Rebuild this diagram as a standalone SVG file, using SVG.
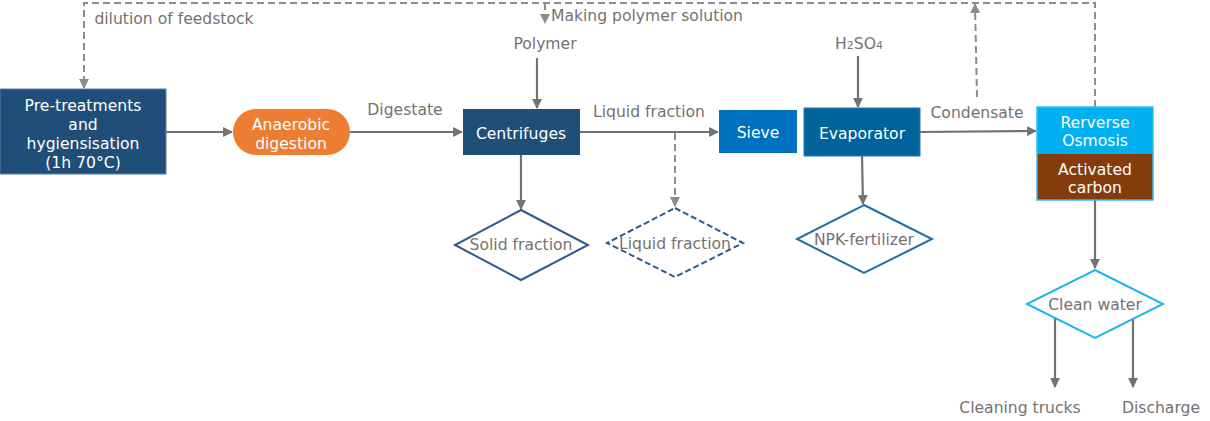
<svg xmlns="http://www.w3.org/2000/svg" width="1210" height="421" viewBox="0 0 1210 421">
<style>
text{font-family:"DejaVu Sans","Liberation Sans",sans-serif;font-size:15.6px;text-anchor:middle}
.w{fill:#ffffff}
.g{fill:#767171}
.c{stroke:#767171;stroke-width:2.2;fill:none}
.d{stroke:#8c8c8c;stroke-width:2;fill:none;stroke-dasharray:7 4}
</style>
<defs>
<marker id="a" viewBox="0 0 10 10" refX="9" refY="5" markerWidth="4.5" markerHeight="4.5" orient="auto" markerUnits="strokeWidth">
<path d="M0,0 L10,5 L0,10 z" fill="#767171"/>
</marker>
<marker id="ad" viewBox="0 0 10 10" refX="9" refY="5" markerWidth="5" markerHeight="5" orient="auto" markerUnits="strokeWidth">
<path d="M0,0 L10,5 L0,10 z" fill="#8c8c8c"/>
</marker>
</defs>
<g id="connectors">
<path class="d" d="M1095,107 V3 H84 V88" marker-end="url(#ad)"/>
<path class="d" d="M977,97 L975,4" marker-end="url(#ad)"/>
<path class="d" d="M545,3 V23" marker-end="url(#ad)"/>
<path class="c" d="M166,132 H232" marker-end="url(#a)"/>
<path class="c" d="M350,132 H462" marker-end="url(#a)"/>
<path class="c" d="M537,58 V108" marker-end="url(#a)"/>
<path class="c" d="M580,132 H718" marker-end="url(#a)"/>
<path class="d" d="M675,133 V206" marker-end="url(#ad)"/>
<path class="c" d="M521,155 V209" marker-end="url(#a)"/>
<path class="c" d="M858,56 V107" marker-end="url(#a)"/>
<path class="c" d="M862,156 L863,204" marker-end="url(#a)"/>
<path class="c" d="M920,132 L1036,131" marker-end="url(#a)"/>
<path class="c" d="M1095,200 V268" marker-end="url(#a)"/>
<path class="c" d="M1055,318 V387" marker-end="url(#a)"/>
<path class="c" d="M1133,318 V387" marker-end="url(#a)"/>
<text class="g" x="174" y="24">dilution of feedstock</text>
<text class="g" x="647" y="21">Making polymer solution</text>
<text class="g" x="545" y="49">Polymer</text>
<text class="g" x="405" y="115">Digestate</text>
<text class="g" x="649" y="117">Liquid fraction</text>
<text class="g" x="859" y="49">H<tspan font-size="11">2</tspan>SO<tspan font-size="11">4</tspan></text>
<text class="g" x="977" y="118">Condensate</text>
<text class="g" x="1020" y="413">Cleaning trucks</text>
<text class="g" x="1161" y="413">Discharge</text>
</g>
<g id="pretreat">
<rect x="0" y="89" width="166" height="85" fill="#1F4E79" stroke="#5B7FA8" stroke-width="1"/>
<text class="w" x="83" y="110.5">Pre-treatments</text>
<text class="w" x="83" y="129.5">and</text>
<text class="w" x="83" y="148.5">hygiensisation</text>
<text class="w" x="83" y="167.5">(1h 70°C)</text>
</g>
<g id="anaerobic">
<rect x="233" y="109" width="117" height="46" rx="23" fill="#ED7D31"/>
<text class="w" x="291" y="130">Anaerobic</text>
<text class="w" x="291" y="148.5">digestion</text>
</g>
<g id="centrifuges">
<rect x="463" y="109" width="117" height="46" fill="#1F4E79"/>
<text class="w" x="521" y="138.5">Centrifuges</text>
</g>
<g id="sieve">
<rect x="719" y="110" width="78" height="43" fill="#0070C0"/>
<text class="w" x="758" y="137.5">Sieve</text>
</g>
<g id="evaporator">
<rect x="804" y="108" width="116" height="48" fill="#00649B" stroke="#2B7BB0" stroke-width="1"/>
<text class="w" x="862" y="138.5">Evaporator</text>
</g>
<g id="ro">
<rect x="1037" y="107" width="116" height="47" fill="#00B0F0"/>
<rect x="1037" y="154" width="116" height="46" fill="#843C0C"/>
<rect x="1037" y="107" width="116" height="93" fill="none" stroke="#33BDEB" stroke-width="1.5"/>
<text class="w" x="1095" y="127.5">Rerverse</text>
<text class="w" x="1095" y="146">Osmosis</text>
<text class="w" x="1095" y="174.5">Activated</text>
<text class="w" x="1095" y="193">carbon</text>
</g>
<g id="solid">
<polygon points="521,210 588,245 521,280 455,245" fill="#fff" stroke="#2F5A8A" stroke-width="2"/>
<text class="g" x="521" y="249.5">Solid fraction</text>
</g>
<g id="liquid">
<polygon points="675,208 743,243 675,277 607,243" fill="#fff" stroke="#2F5A8A" stroke-width="2" stroke-dasharray="6 3"/>
<text class="g" x="675" y="248.5">Liquid fraction</text>
</g>
<g id="npk">
<polygon points="864,205 932,239 864,273 797,239" fill="#fff" stroke="#1F6FA0" stroke-width="2"/>
<text class="g" x="864" y="244.5">NPK-fertilizer</text>
</g>
<g id="cleanwater">
<polygon points="1095,270 1163,304 1095,338 1027,304" fill="#fff" stroke="#1FB4F0" stroke-width="2"/>
<text class="g" x="1095" y="309.5">Clean water</text>
</g>
</svg>
